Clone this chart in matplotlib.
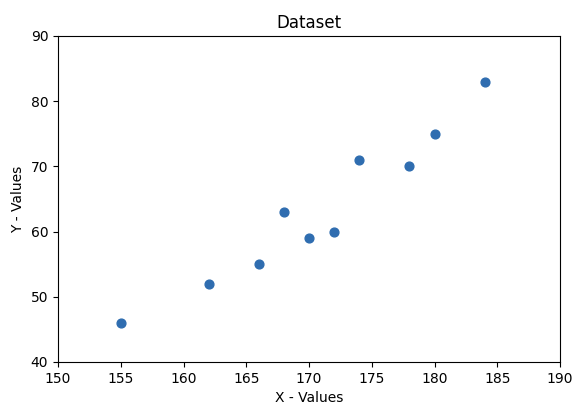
import numpy as np
import matplotlib
matplotlib.use('Agg')
import matplotlib.pyplot as plt

# Data
x_vals = [155, 162, 166, 168, 170, 172, 174, 178, 180, 184]
y_vals = [46, 52, 55, 63, 59, 60, 71, 70, 75, 83]

fig = plt.figure(figsize=(5.81, 4.13), dpi=100)
ax = fig.add_axes([0.0998, 0.1235, 0.8642, 0.7895])

ax.scatter(x_vals, y_vals, color='#2f6db0', s=40)
ax.set_xlim(150, 190)
ax.set_ylim(40, 90)
ax.set_xticks(np.arange(150, 191, 5))
ax.set_yticks(np.arange(40, 91, 10))
ax.set_xlabel('X - Values')
ax.set_ylabel('Y - Values')
ax.set_title('Dataset')

fig.savefig('out.png', dpi=100)
